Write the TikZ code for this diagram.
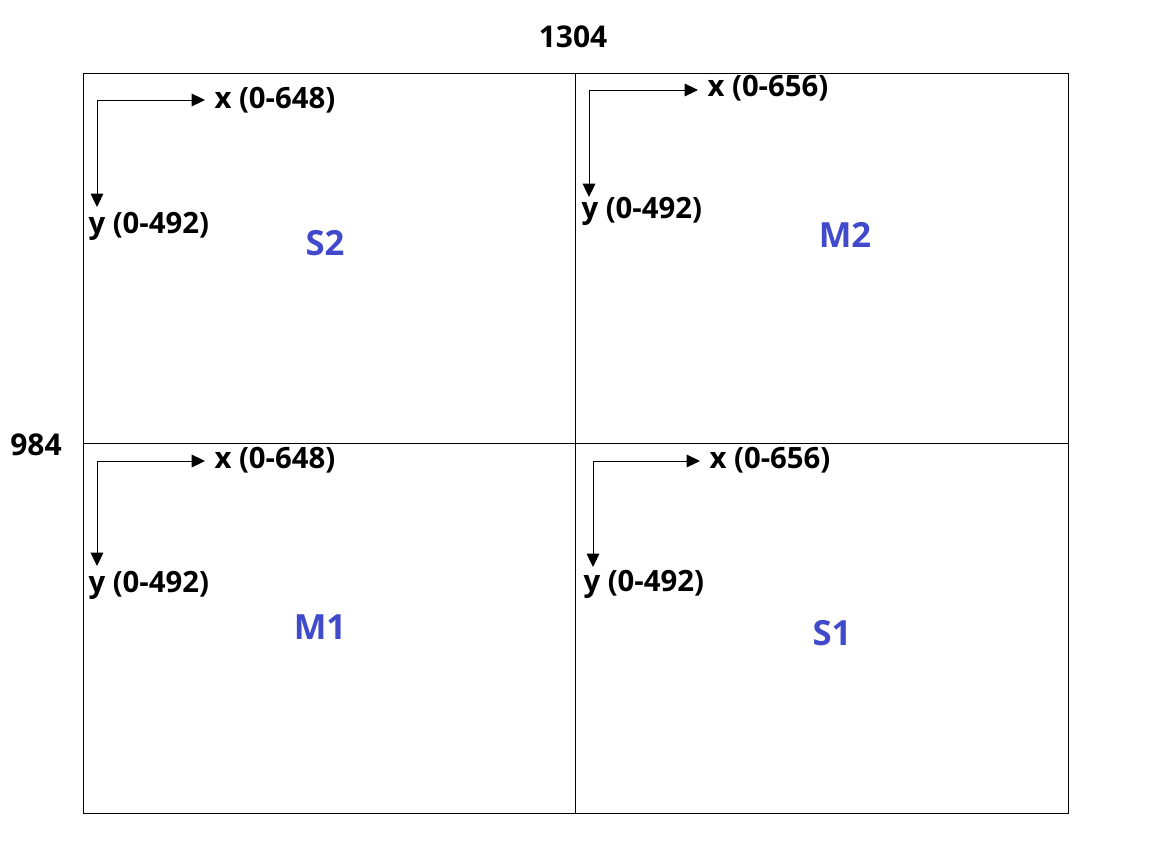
\documentclass[tikz,border=0pt]{standalone}
\usepackage{fontspec}
\setmainfont{Open Sans}
\usetikzlibrary{arrows.meta}
\definecolor{lblblue}{RGB}{66,74,204}
\tikzset{every picture/.style={line width=0.75pt}}
\tikzset{
  axis/.style={-{Triangle[length=10pt,width=9.5pt]}},
  axlbl/.style={anchor=west,inner sep=0pt,font=\fontsize{22}{26}\selectfont\bfseries},
  dimlbl/.style={inner sep=0pt,font=\fontsize{22.5}{26}\selectfont\bfseries},
  panlbl/.style={inner sep=0pt,text=lblblue,font=\fontsize{26}{30}\selectfont\bfseries}
}
\begin{document}
\begin{tikzpicture}[x=0.75pt,y=0.75pt,yscale=-1]
        \useasboundingbox (0,0) rectangle (1158,868);
        % outer frame and quadrants
        \draw   (83,73) rectangle (1068,813) ;
        \draw    (575,73) -- (575,813) ;
        \draw    (83,443) -- (1068,443) ;
        \node [dimlbl] (width) at (573,37) {1304};
        \node [dimlbl] (height) at (36,445) {984};
        % top left
        \coordinate (cS2) at (97,100);
        \coordinate (xS2) at (205,100);
        \coordinate (yS2) at (97,207);
        \draw [axis] (cS2) -- (xS2) ;
        \draw [axis] (cS2) -- (yS2) ;
        \node [axlbl] (xlS2) at (214,100) {x (0-648)};
        \node [axlbl] (ylS2) at (88,226) {y (0-492)};
        \node [panlbl] (S2) at (325,243) {S2};
        % top right
        \coordinate (cM2) at (589,90);
        \coordinate (xM2) at (698,90);
        \coordinate (yM2) at (589,197);
        \draw [axis] (cM2) -- (xM2) ;
        \draw [axis] (cM2) -- (yM2) ;
        \node [axlbl] (xlM2) at (707,88) {x (0-656)};
        \node [axlbl] (ylM2) at (581,211) {y (0-492)};
        \node [panlbl] (M2) at (845,235) {M2};
        % bottom left
        \coordinate (cM1) at (97,461);
        \coordinate (xM1) at (205,461);
        \coordinate (yM1) at (97,566);
        \draw [axis] (cM1) -- (xM1) ;
        \draw [axis] (cM1) -- (yM1) ;
        \node [axlbl] (xlM1) at (214,460) {x (0-648)};
        \node [axlbl] (ylM1) at (88,585) {y (0-492)};
        \node [panlbl] (M1) at (320,627) {M1};
        % bottom right
        \coordinate (cS1) at (593,461);
        \coordinate (xS1) at (700,461);
        \coordinate (yS1) at (593,567);
        \draw [axis] (cS1) -- (xS1) ;
        \draw [axis] (cS1) -- (yS1) ;
        \node [axlbl] (xlS1) at (709,460) {x (0-656)};
        \node [axlbl] (ylS1) at (583,584) {y (0-492)};
        \node [panlbl] (S1) at (832,633) {S1};
\end{tikzpicture}
\end{document}
